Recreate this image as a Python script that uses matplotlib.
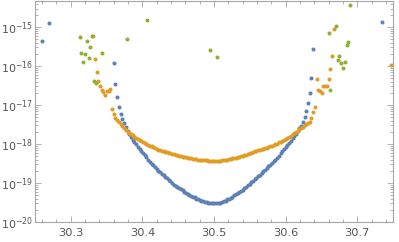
import numpy as np
import matplotlib
matplotlib.use("Agg")
import matplotlib.pyplot as plt
from matplotlib.ticker import MultipleLocator, LogLocator, NullFormatter, FixedLocator

# sampling grid of the computed series
grid_step = 0.0024

# series 1 (blue): log10 values, starting at x = 30.36
blue_x0 = 30.36
blue_log = [
    -15.91, -16.47, -16.79, -17.04, -17.22, -17.35, -17.47, -17.57, -17.66, -17.73,
    -17.81, -17.89, -17.95, -18.01, -18.07, -18.13, -18.18, -18.24, -18.29, -18.34,
    -18.40, -18.45, -18.50, -18.55, -18.59, -18.63, -18.68, -18.72, -18.76, -18.80,
    -18.84, -18.88, -18.92, -18.96, -19.00, -19.04, -19.07, -19.11, -19.13, -19.16,
    -19.19, -19.22, -19.25, -19.28, -19.31, -19.33, -19.35, -19.37, -19.40, -19.42,
    -19.44, -19.45, -19.46, -19.48, -19.49, -19.50, -19.51, -19.52, -19.52, -19.52,
    -19.52, -19.52, -19.51, -19.49, -19.47, -19.45, -19.42, -19.40, -19.38, -19.35,
    -19.32, -19.29, -19.26, -19.23, -19.20, -19.17, -19.13, -19.09, -19.06, -19.02,
    -18.98, -18.94, -18.90, -18.86, -18.83, -18.79, -18.75, -18.70, -18.66, -18.61,
    -18.57, -18.53, -18.48, -18.44, -18.40, -18.35, -18.30, -18.24, -18.19, -18.13,
    -18.08, -18.02, -17.97, -17.91, -17.85, -17.79, -17.73, -17.67, -17.60, -17.53,
    -17.43, -17.30, -17.15, -16.94, -16.69, -16.30, -15.55,
]
blue_extra_x = [30.2594, 30.2692, 30.7350]
blue_extra_log = [-15.36, -14.89, -14.86]

# series 2 (orange): log10 values, starting at x = 30.3312
orange_x0 = 30.3312
orange_log = [
    -15.22, -15.82, -16.15, -16.37, -16.51, -16.62, -16.67, -16.74, -16.64, -16.64,
    -16.60, -17.10, -17.23, -17.34,
    -17.39, -17.44, -17.49, -17.54, -17.59, -17.63, -17.68, -17.72, -17.75, -17.78,
    -17.81, -17.84, -17.87, -17.90, -17.93, -17.96, -17.98, -18.00, -18.02, -18.04,
    -18.06, -18.08, -18.10, -18.12, -18.14, -18.16, -18.17, -18.18, -18.20, -18.21,
    -18.22, -18.24, -18.25, -18.26, -18.28, -18.29, -18.30, -18.31, -18.32, -18.33,
    -18.34, -18.35, -18.36, -18.37, -18.38, -18.39, -18.39, -18.40, -18.40, -18.41,
    -18.41, -18.42, -18.42, -18.43, -18.43, -18.43, -18.43, -18.43, -18.43, -18.43,
    -18.43, -18.42, -18.42, -18.41, -18.40, -18.39, -18.38, -18.37, -18.36, -18.35,
    -18.33, -18.32, -18.31, -18.30, -18.29, -18.27, -18.25, -18.24, -18.22, -18.21,
    -18.19, -18.18, -18.16, -18.15, -18.13, -18.12, -18.10, -18.09, -18.07, -18.05,
    -18.04, -18.02, -18.01, -17.99, -17.96, -17.94, -17.91, -17.89, -17.87, -17.84,
    -17.82, -17.79, -17.75, -17.72, -17.69, -17.66, -17.62, -17.59, -17.56, -17.52,
    -17.49, -17.46, -17.43,
    -17.32, -17.19, -17.04, -16.33, -16.62, -16.64, -16.68, -16.51, -16.51, -16.51,
    -16.33, -16.08, -15.74, -15.06,
]
orange_extra_x = [30.7476]
orange_extra_log = [-15.96]

# series 3 (green): scattered points
green_x = [30.3122, 30.3224, 30.3299, 30.3271, 30.3789, 30.3140, 30.3201, 30.3248,
           30.3168, 30.3439, 30.3322, 30.3355, 30.4059, 30.4940, 30.5038, 30.6898,
           30.6702, 30.6600, 30.6874, 30.6852, 30.6747, 30.6726, 30.6824, 30.6775,
           30.6796, 30.6621]
green_log = [-15.26, -15.35, -15.22, -15.51, -15.30, -15.67, -15.70, -15.79,
             -15.89, -15.67, -16.38, -16.44, -14.82, -15.59, -15.77, -14.43,
             -14.97, -15.15, -15.37, -15.47, -15.74, -15.85, -15.90, -15.93,
             -16.04, -16.61]

x_ticks = [30.3, 30.4, 30.5, 30.6, 30.7]
y_exponents = [-20, -19, -18, -17, -16, -15]

BLUE = "#5E81B5"
ORANGE = "#E19C24"
GREEN = "#8FB032"
FRAME = "#a6a6a6"
LABEL = "#555555"

fig = plt.figure(figsize=(3.99, 2.42), dpi=100)
ax = fig.add_axes([35/399, 1-222/242, (393.3-35)/399, (222-1)/242])

bx = blue_x0 + grid_step*np.arange(len(blue_log))
ox = orange_x0 + grid_step*np.arange(len(orange_log))

ms = 2.9
ax.plot(np.r_[bx, blue_extra_x], 10.0**np.r_[blue_log, blue_extra_log], 'o',
        color=BLUE, ms=ms, mec='none')
ax.plot(np.r_[ox, orange_extra_x], 10.0**np.r_[orange_log, orange_extra_log], 'o',
        color=ORANGE, ms=ms, mec='none')
ax.plot(green_x, 10.0**np.array(green_log), 'o', color=GREEN, ms=ms, mec='none')

ax.set_yscale('log')
ax.set_xlim(30.25, 30.7503)
ax.set_ylim(1e-20, 10**-14.33)

ax.set_xticks(x_ticks)
ax.set_xticklabels([f"{t:.1f}" for t in x_ticks])
ax.xaxis.set_minor_locator(MultipleLocator(0.02))
ax.set_yticks([10.0**e for e in y_exponents])
ax.set_yticklabels([r"$10^{%d}$" % e for e in y_exponents])
minor = [m*10.0**e for e in range(-20, -14) for m in range(2, 10)]
ax.yaxis.set_minor_locator(FixedLocator(minor))
ax.yaxis.set_minor_formatter(NullFormatter())

for s in ax.spines.values():
    s.set_color(FRAME)
    s.set_linewidth(0.8)

ax.tick_params(which='both', direction='in', top=True, right=True,
               color=FRAME, labelcolor=LABEL, width=0.6)
ax.tick_params(which='major', length=4)
ax.tick_params(which='minor', length=2)
ax.tick_params(axis='x', pad=4, labelsize=8.2)
ax.tick_params(axis='y', pad=1.5, labelsize=8)

fig.savefig("out.png", dpi=100)
